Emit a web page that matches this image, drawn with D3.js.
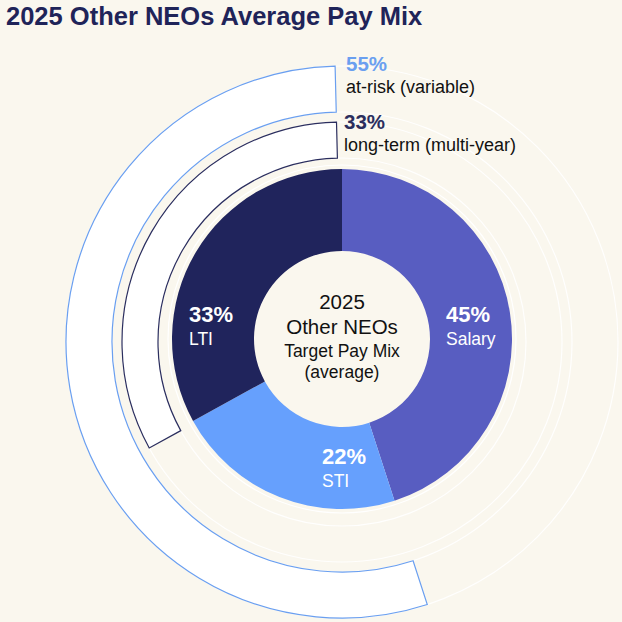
<!DOCTYPE html>
<html>
<head>
<meta charset="utf-8">
<script src="https://cdn.jsdelivr.net/npm/d3@7"></script>
<style>
  body { margin: 0; background: #faf7ee; }
  svg { display: block; font-family: "Liberation Sans", Arial, sans-serif; }
</style>
</head>
<body>
<svg width="622" height="622"></svg>
<script>
// pay mix slices
var categories = ['Salary', 'STI', 'LTI'];
var values = [45, 22, 33];
var sliceColors = ['#585dc1', '#66a0fd', '#20245c'];

// outer callout rings: share of the pie they wrap, from the end going back to 12 o'clock
var ringLabels = ['at-risk (variable)', 'long-term (multi-year)'];
var ringValues = [55, 33];

var title = '2025 Other NEOs Average Pay Mix';
var centerLines = ['2025', 'Other NEOs', 'Target Pay Mix', '(average)'];

var svg = d3.select('svg');
var cx = 342, cy = 340;

svg.append('text')
  .attr('x', 6).attr('y', 25)
  .attr('font-size', 25.5).attr('font-weight', 'bold')
  .attr('fill', '#1f2459')
  .text(title);

var pie = d3.pie().sort(null).value(function(d) { return d; });
var arcs = pie(values);
var arc = d3.arc().innerRadius(88).outerRadius(170);

var g = svg.append('g').attr('transform', 'translate(' + cx + ',' + (cy - 1) + ')');

// rings, drawn first so the donut sits on top
var rings = [
  {inner: 230, outer: 276, stroke: '#6a9ff0', value: ringValues[0]},
  {inner: 184, outer: 220, stroke: '#2b2e5e', value: ringValues[1]}
];
var rg = svg.append('g').attr('transform', 'translate(' + cx + ',' + (cy + 2) + ')');
rings.forEach(function(r) {
  [r.inner, r.outer].forEach(function(rad) {
    rg.append('circle').attr('r', rad)
      .attr('fill', 'none').attr('stroke', '#ffffff').attr('stroke-width', 1.2).attr('opacity', 0.9);
  });
  var start = 2 * Math.PI * (1 - r.value / 100);
  rg.append('path')
    .attr('d', d3.arc().innerRadius(r.inner).outerRadius(r.outer)
      .startAngle(start).endAngle(2 * Math.PI - 0.025)())
    .attr('fill', '#ffffff')
    .attr('stroke', r.stroke)
    .attr('stroke-width', 1.2);
});

g.append('circle').attr('r', 174).attr('fill', 'none').attr('stroke', '#ffffff').attr('stroke-width', 1.2);

g.selectAll('path.slice')
  .data(arcs)
  .enter()
  .append('path')
  .attr('class', 'slice')
  .attr('d', arc)
  .attr('fill', function(d, i) { return sliceColors[i]; });

// slice labels, left aligned
var labelPos = [[104, -17], [-20, 125], [-153, -17]];
arcs.forEach(function(d, i) {
  var x = labelPos[i][0], y = labelPos[i][1];
  g.append('text').attr('x', x).attr('y', y)
    .attr('font-size', 22).attr('font-weight', 'bold').attr('fill', '#ffffff')
    .text(values[i] + '%');
  g.append('text').attr('x', x).attr('y', y + 23)
    .attr('font-size', 17.5).attr('fill', '#ffffff')
    .text(categories[i]);
});

// centre text
var centerSizes = [20.5, 20.5, 17.5, 17.5];
var centerY = [-30, -5, 18, 39];
centerLines.forEach(function(t, i) {
  g.append('text')
    .attr('x', 0).attr('y', centerY[i])
    .attr('text-anchor', 'middle')
    .attr('font-size', centerSizes[i]).attr('fill', '#111111')
    .text(t);
});

// ring callouts at the top
var calloutX = [346, 344];
var calloutY = [71, 129];
var calloutColors = ['#6a9ff0', '#2b2e5e'];
ringValues.forEach(function(v, i) {
  svg.append('text').attr('x', calloutX[i]).attr('y', calloutY[i])
    .attr('font-size', 20.5).attr('font-weight', 'bold').attr('fill', calloutColors[i])
    .text(v + '%');
  svg.append('text').attr('x', calloutX[i]).attr('y', calloutY[i] + 22)
    .attr('font-size', 18).attr('fill', '#111111')
    .text(ringLabels[i]);
});
</script>
</body>
</html>
